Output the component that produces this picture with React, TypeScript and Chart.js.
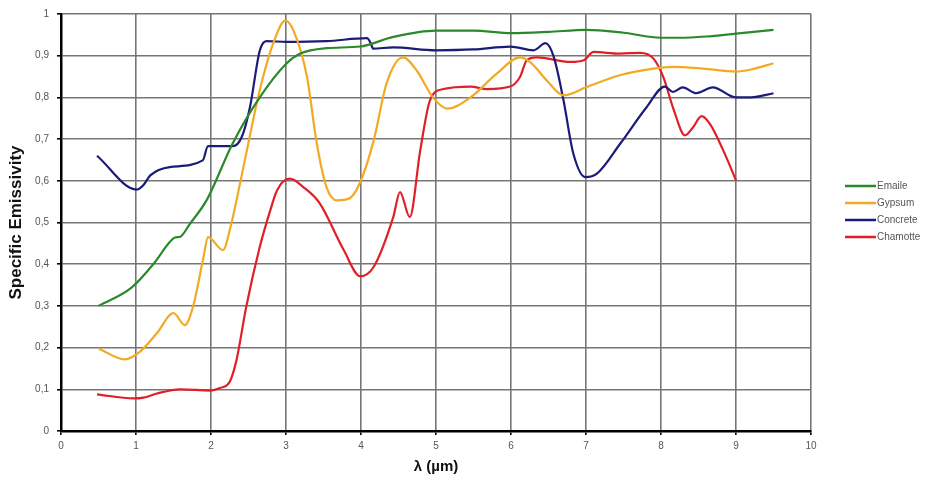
import { useEffect, useRef } from 'react';
import { Chart, registerables } from 'chart.js';

Chart.register(...registerables);

const seriesNames = ['Emaile', 'Gypsum', 'Concrete', 'Chamotte'];
const seriesColors = ['#2a8a2a', '#f2aa22', '#1b1b78', '#e01f26'];

const emaileX = [0.5, 0.94, 1.23, 1.45, 1.52, 1.59, 1.72, 1.94, 2.29, 2.65, 3.0, 3.19, 3.54, 3.99, 4.43, 5.0, 5.5, 6.0, 6.5, 7.0, 7.5, 8.0, 8.25, 8.6, 9.0, 9.5];
const emaileY = [0.30, 0.344, 0.40, 0.453, 0.464, 0.466, 0.497, 0.553, 0.69, 0.80, 0.88, 0.905, 0.918, 0.922, 0.945, 0.96, 0.96, 0.954, 0.957, 0.962, 0.955, 0.943, 0.943, 0.946, 0.953, 0.962];

const gypsumX = [0.5, 0.85, 1.05, 1.28, 1.5, 1.65, 1.76, 1.9, 1.96, 2.16, 2.26, 2.34, 2.47, 2.65, 2.83, 2.99, 3.1, 3.28, 3.41, 3.54, 3.68, 3.85, 3.99, 4.17, 4.34, 4.56, 4.74, 4.96, 5.15, 5.46, 5.81, 6.12, 6.26, 6.48, 6.7, 7.01, 7.45, 7.9, 8.17, 8.56, 9.0, 9.2, 9.5];
const gypsumY = [0.198, 0.172, 0.19, 0.235, 0.283, 0.254, 0.298, 0.417, 0.465, 0.434, 0.489, 0.553, 0.666, 0.817, 0.93, 0.984, 0.96, 0.849, 0.69, 0.585, 0.553, 0.558, 0.597, 0.697, 0.833, 0.896, 0.865, 0.80, 0.773, 0.80, 0.857, 0.896, 0.884, 0.84, 0.805, 0.825, 0.853, 0.869, 0.873, 0.869, 0.862, 0.867, 0.882];

const concreteX = [0.48, 1.01, 1.1, 1.19, 1.45, 1.89, 1.96, 2.0, 2.29, 2.41, 2.52, 2.65, 2.74, 3.01, 3.54, 4.08, 4.13, 4.16, 4.43, 5.0, 5.5, 5.99, 6.3, 6.46, 6.57, 6.7, 6.83, 6.99, 7.15, 7.46, 7.81, 8.05, 8.16, 8.29, 8.47, 8.69, 9.0, 9.2, 9.5];
const concreteY = [0.66, 0.579, 0.59, 0.613, 0.633, 0.649, 0.683, 0.683, 0.683, 0.705, 0.777, 0.912, 0.935, 0.933, 0.935, 0.942, 0.93, 0.917, 0.92, 0.913, 0.915, 0.922, 0.913, 0.93, 0.897, 0.793, 0.666, 0.609, 0.618, 0.69, 0.777, 0.826, 0.813, 0.824, 0.81, 0.824, 0.80, 0.80, 0.81];

const chamotteX = [0.48, 0.97, 1.1, 1.28, 1.59, 1.99, 2.12, 2.25, 2.34, 2.47, 2.65, 2.79, 2.88, 3.05, 3.23, 3.45, 3.77, 3.99, 4.17, 4.43, 4.52, 4.65, 4.79, 4.92, 5.1, 5.46, 5.68, 5.99, 6.12, 6.21, 6.34, 6.79, 6.97, 7.1, 7.45, 7.72, 7.9, 8.03, 8.17, 8.32, 8.43, 8.54, 8.65, 8.83, 9.0];
const chamotteY = [0.088, 0.078, 0.08, 0.09, 0.10, 0.097, 0.103, 0.118, 0.17, 0.298, 0.441, 0.529, 0.577, 0.605, 0.585, 0.546, 0.434, 0.371, 0.394, 0.513, 0.573, 0.513, 0.673, 0.793, 0.82, 0.826, 0.82, 0.826, 0.849, 0.889, 0.896, 0.885, 0.889, 0.909, 0.905, 0.907, 0.893, 0.849, 0.77, 0.709, 0.729, 0.755, 0.737, 0.673, 0.601];

const xMin = 0;
const xMax = 10;
const yMin = 0;
const yMax = 1;
const xTitle = 'λ (µm)';
const yTitle = 'Specific Emissivity';

const seriesX = [emaileX, gypsumX, concreteX, chamotteX];
const seriesY = [emaileY, gypsumY, concreteY, chamotteY];

const FONT = '"Liberation Sans", Arial, sans-serif';

const sideLegend = {
  id: 'sideLegend',
  afterDraw(chart: any) {
    const ctx = chart.ctx;
    const left = chart.chartArea.right + 34;
    ctx.save();
    ctx.font = `10px ${FONT}`;
    ctx.textBaseline = 'middle';
    ctx.textAlign = 'left';
    chart.data.datasets.forEach((ds: any, i: number) => {
      const y = 186 + i * 17;
      ctx.strokeStyle = ds.borderColor;
      ctx.lineWidth = 2.5;
      ctx.beginPath();
      ctx.moveTo(left, y);
      ctx.lineTo(left + 31, y);
      ctx.stroke();
      ctx.fillStyle = '#555';
      ctx.fillText(ds.label, left + 32, y);
    });
    ctx.restore();
  },
};

const fmt = (v: any) => String(Math.round(Number(v) * 10) / 10).replace('.', ',');

export default function App() {
  const ref = useRef<HTMLCanvasElement>(null);
  useEffect(() => {
    if (!ref.current) return;
    const chart = new Chart(ref.current, {
      type: 'line',
      data: {
        datasets: seriesNames.map((name, i) => ({
          label: name,
          data: seriesX[i].map((x, j) => ({ x, y: seriesY[i][j] })),
          borderColor: seriesColors[i],
          backgroundColor: seriesColors[i],
          borderWidth: 2.2,
          pointRadius: 0,
          cubicInterpolationMode: 'monotone' as const,
          fill: false,
        })),
      },
      options: {
        animation: false,
        responsive: false,
        devicePixelRatio: 1,
        layout: { padding: { top: 13, right: 114, left: 0, bottom: 0 } },
        plugins: {
          legend: { display: false },
          tooltip: { enabled: false },
        },
        scales: {
          x: {
            type: 'linear',
            min: xMin,
            max: xMax,
            afterFit: (s: any) => { s.height = 56; },
            ticks: { stepSize: 1, color: '#555', font: { family: FONT, size: 10 }, padding: 5, callback: fmt },
            grid: { color: '#767676', lineWidth: 1.6, tickLength: 4, tickColor: '#000' },
            border: { color: '#000', width: 2.5 },
            title: { display: true, text: xTitle, color: '#111', font: { family: FONT, size: 15, weight: 'bold' }, padding: { top: 0, bottom: 11 } },
          },
          y: {
            type: 'linear',
            min: yMin,
            max: yMax,
            afterFit: (s: any) => { s.width = 61; },
            ticks: { stepSize: 0.1, color: '#555', font: { family: FONT, size: 10 }, padding: 8, callback: fmt },
            grid: { color: '#767676', lineWidth: 1.6, tickLength: 4, tickColor: '#000' },
            border: { color: '#000', width: 2.5 },
            title: { display: true, text: yTitle, color: '#111', font: { family: FONT, size: 17, weight: 'bold' }, padding: { top: 6, bottom: 0 } },
          },
        },
      },
      plugins: [sideLegend],
    });
    return () => chart.destroy();
  }, []);
  return (
    <div style={{ position: 'fixed', left: 0, top: 0, width: 925, height: 487, background: '#fff' }}>
      <canvas ref={ref} width={925} height={487} />
    </div>
  );
}
